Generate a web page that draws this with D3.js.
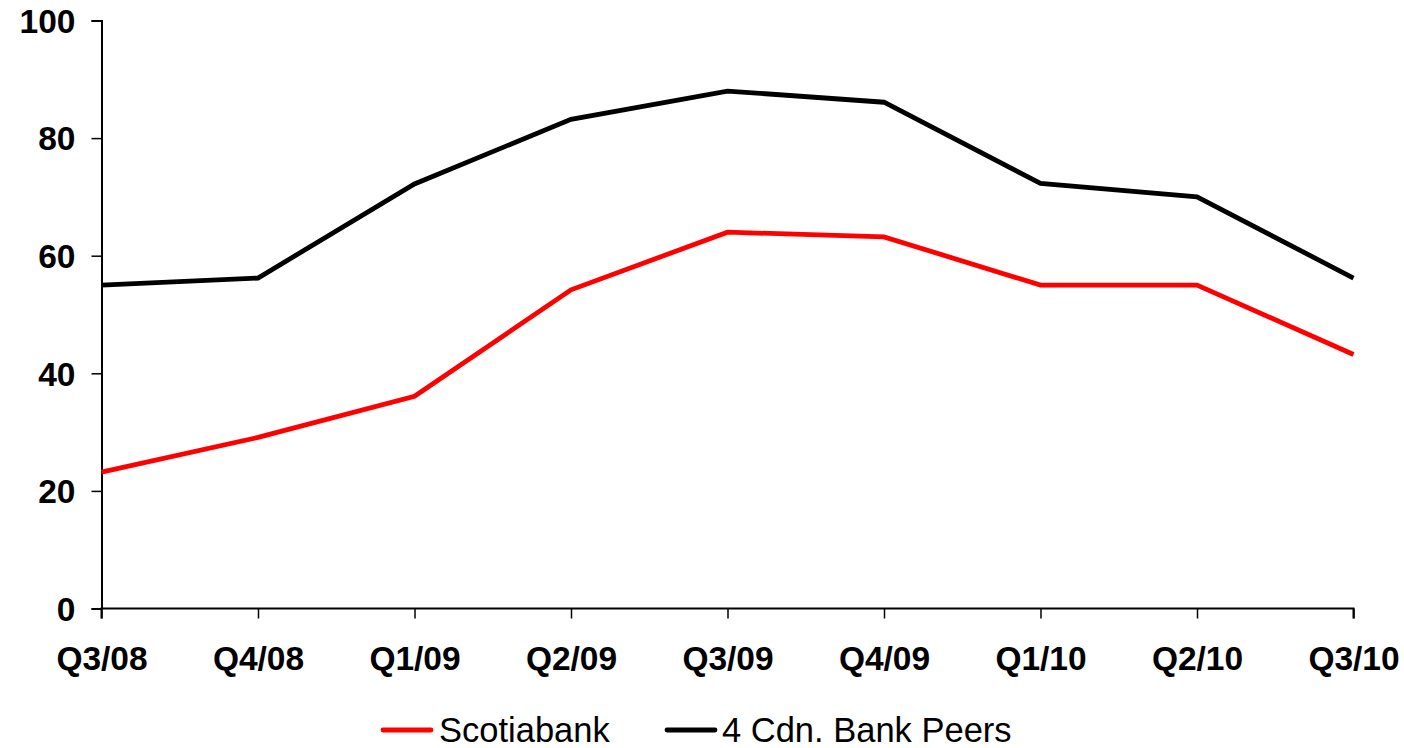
<!DOCTYPE html>
<html>
<head>
<meta charset="utf-8">
<script src="https://cdn.jsdelivr.net/npm/d3@7"></script>
<style>
  html, body { margin: 0; padding: 0; background: #fff; }
  svg { display: block; }
</style>
</head>
<body>
<script>
// Quarterly series
const quarters = ["Q3/08", "Q4/08", "Q1/09", "Q2/09", "Q3/09", "Q4/09", "Q1/10", "Q2/10", "Q3/10"];
const scotiabank = [23.2, 29.1, 36.1, 54.2, 64.0, 63.2, 55.0, 55.0, 43.2];
const peers = [55.0, 56.2, 72.2, 83.2, 88.0, 86.1, 72.3, 70.0, 56.2];
const yTicks = [0, 20, 40, 60, 80, 100];

const seriesNames = ["Scotiabank", "4 Cdn. Bank Peers"];
const seriesColors = ["#ff0000", "#000000"];

const W = 1404, H = 748;
const plotLeft = 101.5, plotRight = 1353.5, plotTop = 20.5, plotBottom = 608.5;

const svg = d3.select("body").append("svg")
  .attr("width", W).attr("height", H);

const x = d3.scalePoint().domain(quarters).range([plotLeft, plotRight]);
const y = d3.scaleLinear().domain([0, 100]).range([plotBottom, plotTop]);

const font = "'Liberation Sans', Arial, sans-serif";

// Y axis
const yAxis = svg.append("g")
  .attr("transform", `translate(${plotLeft},0)`)
  .call(d3.axisLeft(y).tickValues(yTicks).tickSize(10).tickPadding(16).tickFormat(d3.format("d")));
yAxis.select(".domain").attr("stroke", "#000").attr("stroke-width", 2);
yAxis.selectAll(".tick line").attr("stroke", "#000").attr("stroke-width", 1.5);
yAxis.selectAll(".tick text")
  .attr("font-family", font).attr("font-size", 33.5).attr("font-weight", "bold")
  .attr("fill", "#000").attr("dy", "0.35em");

// X axis
const xAxis = svg.append("g")
  .attr("transform", `translate(0,${plotBottom})`)
  .call(d3.axisBottom(x).tickSize(10).tickPadding(28));
xAxis.select(".domain").attr("stroke", "#000").attr("stroke-width", 2)
  .attr("d", `M${plotLeft},10V0H${plotRight}V10`);
xAxis.selectAll(".tick line").attr("stroke", "#000").attr("stroke-width", 1.5);
xAxis.selectAll(".tick text")
  .attr("font-family", font).attr("font-size", 33.5).attr("font-weight", "bold")
  .attr("fill", "#000");

// Lines
const line = d3.line()
  .x((d, i) => x(quarters[i]))
  .y(d => y(d));

[scotiabank, peers].forEach((vals, k) => {
  svg.append("path")
    .datum(vals)
    .attr("d", line)
    .attr("fill", "none")
    .attr("stroke", seriesColors[k])
    .attr("stroke-width", 4.8)
    .attr("stroke-linejoin", "miter");
});

// Legend
const legendItems = [
  { x0: 383, tx: 439 },
  { x0: 667, tx: 722 }
];
const legendY = 730;
seriesNames.forEach((name, k) => {
  const g = svg.append("g");
  g.append("line")
    .attr("x1", legendItems[k].x0).attr("x2", legendItems[k].x0 + 48)
    .attr("y1", legendY).attr("y2", legendY)
    .attr("stroke", seriesColors[k]).attr("stroke-width", 4.8)
    .attr("stroke-linecap", "round");
  g.append("text")
    .attr("x", legendItems[k].tx).attr("y", 742)
    .attr("font-family", font).attr("font-size", 34.5)
    .attr("fill", "#000")
    .text(name);
});
</script>
</body>
</html>
